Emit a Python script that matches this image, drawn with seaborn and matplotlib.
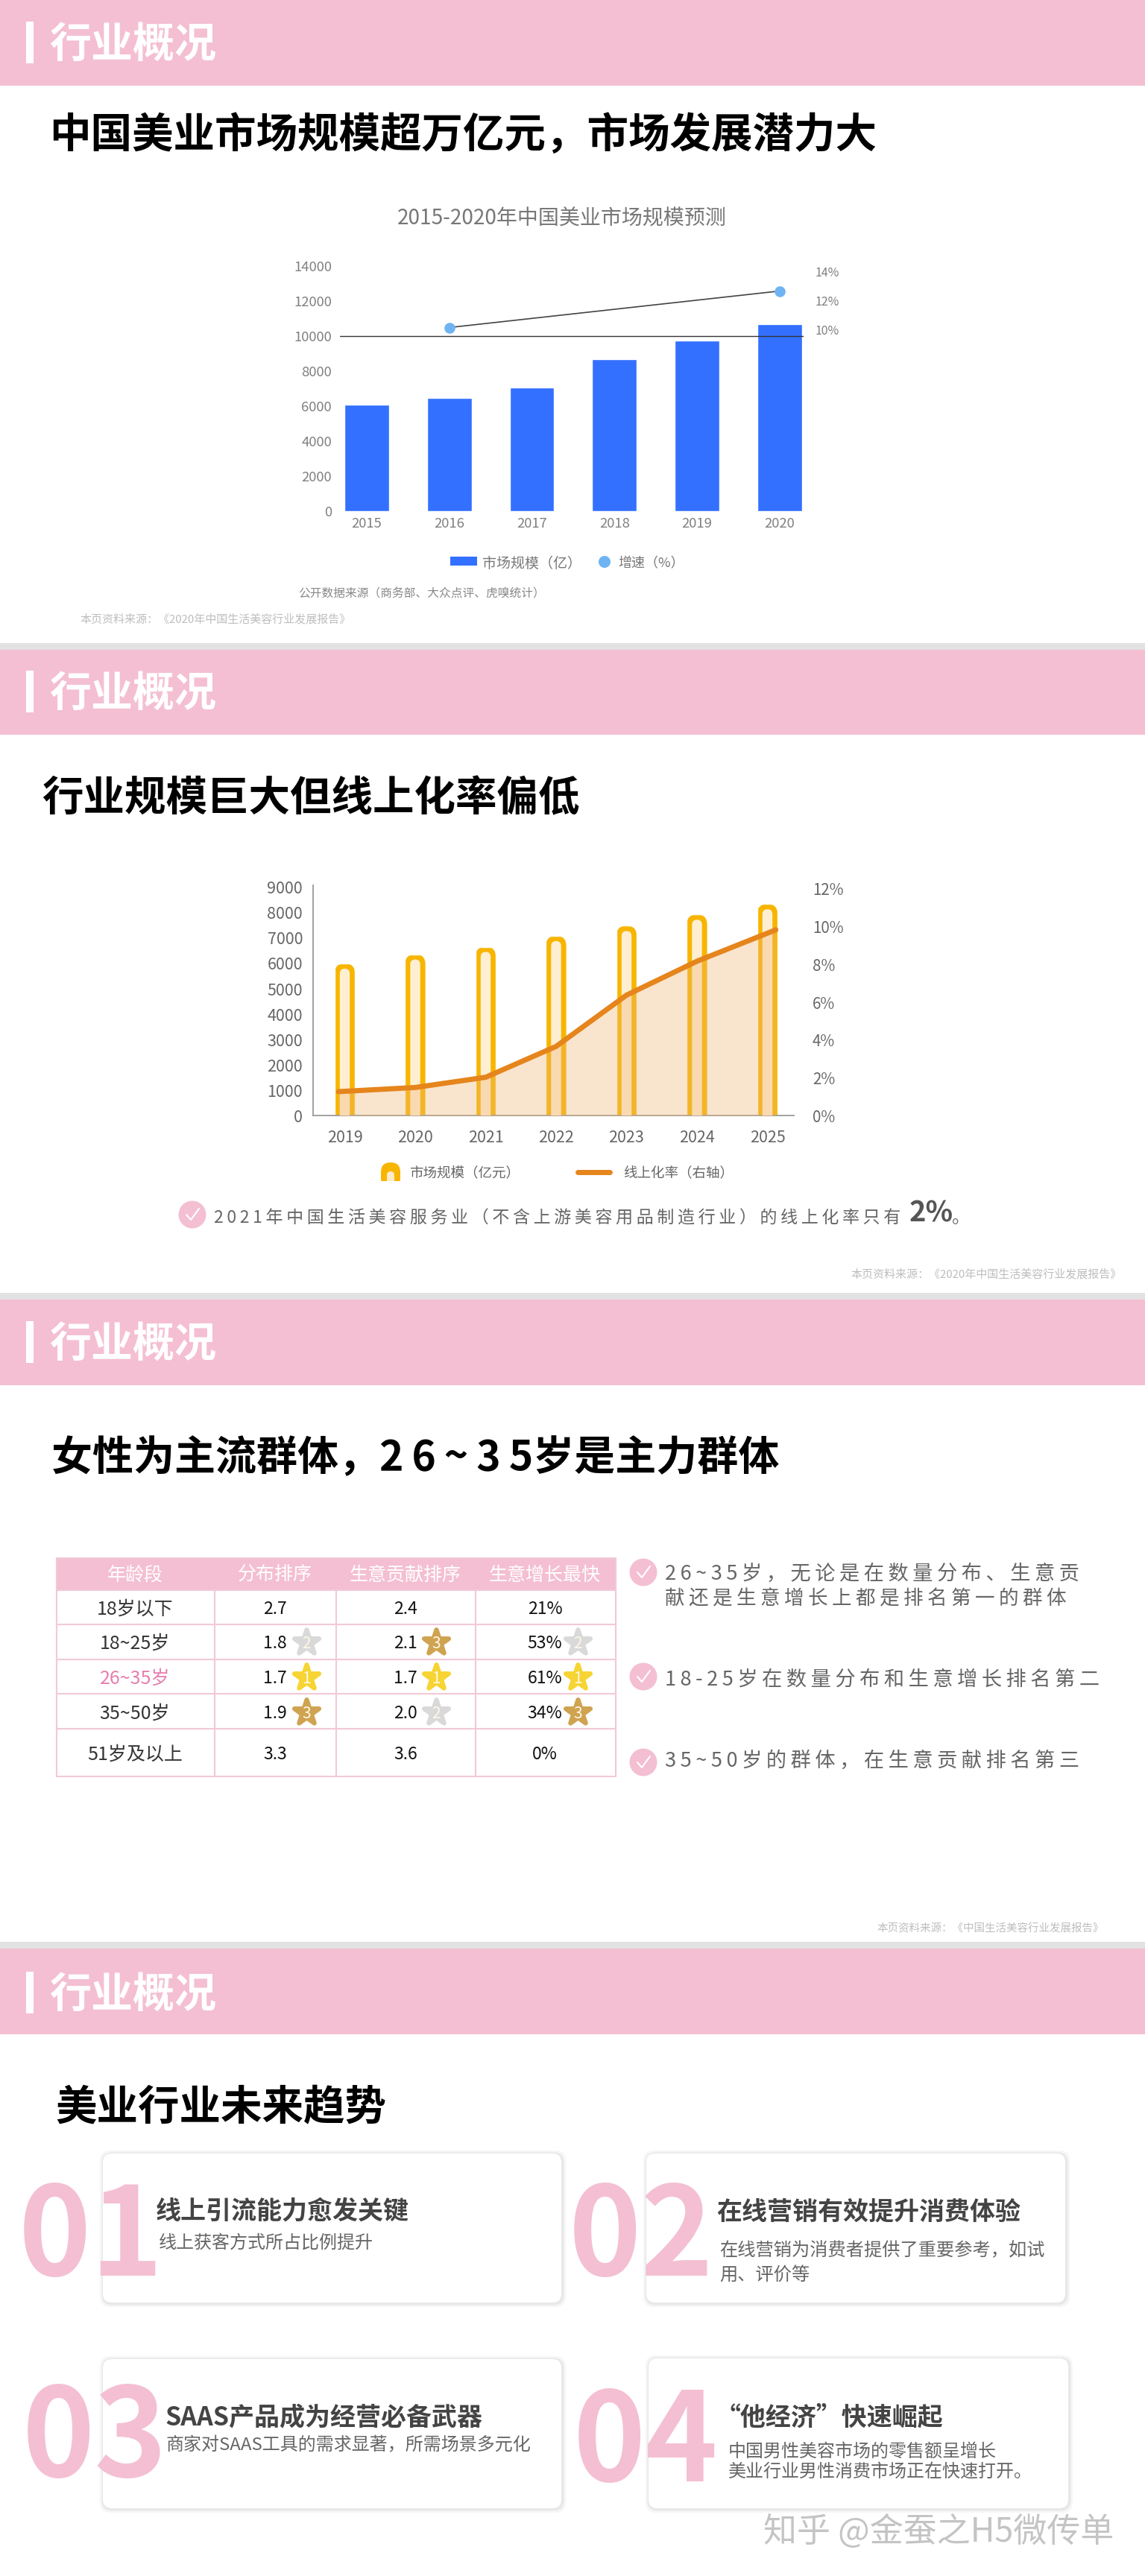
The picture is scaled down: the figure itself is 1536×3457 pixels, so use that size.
import numpy as np
import pandas as pd
import matplotlib
matplotlib.use("Agg")
import matplotlib.pyplot as plt
import seaborn as sns
from matplotlib.patches import Circle, FancyBboxPatch, Rectangle
from matplotlib.transforms import IdentityTransform

# Chart 1
years_a = ["2015", "2016", "2017", "2018", "2019", "2020"]
market_a = [6068, 6450, 7048, 8672, 9724, 10679]
growth_pos = [1, 5]
growth_a = [10.17, 12.68]
ticks_a = [0, 2000, 4000, 6000, 8000, 10000, 12000, 14000]
ticks_a_right = [10, 12, 14]

# Chart 2
years_b = ["2019", "2020", "2021", "2022", "2023", "2024", "2025"]
market_b = [6000, 6362, 6659, 7088, 7483, 7928, 8340]
rate_pos = [-0.09, 1, 2, 3, 4, 5, 6.12]
rate_b = [1.28, 1.5, 2.04, 3.67, 6.38, 8.17, 9.83]
ticks_b = [0, 1000, 2000, 3000, 4000, 5000, 6000, 7000, 8000, 9000]
ticks_b_right = [0, 2, 4, 6, 8, 10, 12]

# Table
table_head = ["年龄段", "分布排序", "生意贡献排序", "生意增长最快"]
age_groups = ["18岁以下", "18~25岁", "26~35岁", "35~50岁", "51岁及以上"]
col_spread = ["2.7", "1.8", "1.7", "1.9", "3.3"]
col_contrib = ["2.4", "2.1", "1.7", "2.0", "3.6"]
col_growth = ["21%", "53%", "61%", "34%", "0%"]
rank_spread = [0, 2, 1, 3, 0]
rank_contrib = [0, 3, 1, 2, 0]
rank_growth = [0, 2, 1, 3, 0]

PINK = "#F4BFD2"
HEADER_TEXT = "行业概况"


def px(n):
    return n * 0.72


sns.set_theme(style="white")
plt.rcParams["font.family"] = ["Noto Sans CJK SC", "DejaVu Sans"]
plt.rcParams["axes.unicode_minus"] = False

W, H = 1536, 3457
fig = plt.figure(figsize=(W / 100, H / 100), dpi=100, facecolor="white")

bg = fig.add_axes([0, 0, 1, 1], zorder=0)
bg.set_xlim(0, W)
bg.set_ylim(H, 0)
bg.axis("off")


def axes_px(left, top, right, bottom):
    return fig.add_axes([left / W, 1 - bottom / H, (right - left) / W, (bottom - top) / H], zorder=1)


def txt(x, y, s, size, color="#333333", weight="normal", ha="left", va="center", zorder=5):
    # matplotlib centres on the line box, which sits a little above the glyphs
    if va == "center":
        y = y + size * 0.07
    return bg.text(x, y, s, fontsize=px(size), color=color, fontweight=weight, ha=ha, va=va, zorder=zorder)


def spaced(s):
    return "\u2009".join(s)


def check_icon(x, y, r=18.5):
    bg.add_patch(Circle((x, y), r, fc=PINK, ec="none", zorder=3))
    bg.plot([x - 8, x - 2, x + 9], [y, y + 7, y - 8], color="white", lw=1.5, zorder=4)


# headers and separators
for top, bottom, mid in [(0, 115, 57), (872, 986, 928), (1743.5, 1858.5, 1801), (2615, 2730, 2674)]:
    bg.add_patch(Rectangle((0, top), W, bottom - top, fc=PINK, ec="none", zorder=1))
    if top > 0:
        bg.add_patch(Rectangle((0, top - 9), W, 9, fc="#E2E2E2", ec="none", zorder=1))
    bg.add_patch(Rectangle((35, mid - 28), 10, 56, fc="white", ec="none", zorder=2))
    txt(66, mid, HEADER_TEXT, 56, color="white", weight="bold")

txt(66, 178, "中国美业市场规模超万亿元，市场发展潜力大", 55.5, color="black", weight="black")
txt(56, 1068, "行业规模巨大但线上化率偏低", 55.5, color="black", weight="black")
txt(69, 1953, "女性为主流群体，" + spaced("26~35") + "岁是主力群体", 55, color="black", weight="black")
txt(74, 2824, "美业行业未来趋势", 55.5, color="black", weight="black")

# chart 1: market size bars with growth on the right axis
txt(754, 291, "2015-2020年中国美业市场规模预测", 28, color="#777777", ha="center")
ax1 = axes_px(456, 357, 1078, 686)
df_a = pd.DataFrame({"year": years_a, "market": market_a})
sns.barplot(data=df_a, x="year", y="market", color="#3370FF", saturation=1, width=0.54, ax=ax1)
ax1.set_xlim(-0.325, 5.29)
ax1.set_ylim(0, 14000)
ax1.set_yticks(ticks_a)
ax1.set_xlabel("")
ax1.set_ylabel("")
ax1.tick_params(axis="both", length=0, labelsize=px(18.5), labelcolor="#808080")
ax1.tick_params(axis="y", pad=8)
ax1.tick_params(axis="x", pad=6)
ax1.axhline(10000, color="#333333", lw=1, zorder=4)
ax1.patch.set_alpha(0)
sns.despine(ax=ax1, left=True, bottom=True)

ax1r = ax1.twinx()
ax1r.set_ylim(-2.46, 14.4)
sns.lineplot(x=growth_pos, y=growth_a, color="#444444", lw=1.2, ax=ax1r)
sns.scatterplot(x=growth_pos, y=growth_a, color="#6FB4F2", s=110, linewidth=0, zorder=5, ax=ax1r)
ax1r.set_yticks(ticks_a_right)
ax1r.set_yticklabels([f"{v}%" for v in ticks_a_right])
ax1r.tick_params(axis="y", length=0, labelsize=px(16), labelcolor="#808080", pad=11)
ax1r.set_ylabel("")
sns.despine(ax=ax1r, left=True, bottom=True, right=True)

bg.add_patch(Rectangle((604, 747), 36, 12, fc="#3370FF", ec="none"))
txt(647, 755, "市场规模（亿）", 19, color="#777777")
bg.add_patch(Circle((811, 754), 8, fc="#6FB4F2", ec="none"))
txt(829, 755, "增速（%）", 18, color="#777777")
txt(400, 796, "公开数据来源（商务部、大众点评、虎嗅统计）", 15.7, color="#888888")
txt(107, 830, "本页资料来源：《2020年中国生活美容行业发展报告》", 15, color="#BDBDBD")

# chart 2: rounded bars and online rate area
ax2 = axes_px(420, 1188, 1065, 1497.5)
df_b = pd.DataFrame({"year": years_b, "market": market_b})
sns.barplot(data=df_b, x="year", y="market", color="#F7B500", saturation=1, width=0.29, ax=ax2)
ax2.set_xlim(-0.45, 6.376)
ax2.set_ylim(0, 9080)
ax2.set_yticks(ticks_b)
ax2.set_xlabel("")
ax2.set_ylabel("")
ax2.tick_params(axis="both", length=0, labelsize=px(21.5), labelcolor="#666666")
ax2.tick_params(axis="y", pad=10)
ax2.tick_params(axis="x", pad=13)
ax2.patch.set_alpha(0)
sns.despine(ax=ax2)
for side in ["left", "bottom"]:
    ax2.spines[side].set_color("#999999")
    ax2.spines[side].set_linewidth(1.3)

for bar in list(ax2.patches):
    x0, y0 = ax2.transData.transform((bar.get_x(), 0))
    x1, y1 = ax2.transData.transform((bar.get_x() + bar.get_width(), bar.get_height()))
    wid = x1 - x0
    clip = FancyBboxPatch((x0, y0 - 40), wid, y1 - y0 + 40, boxstyle=f"round,pad=0,rounding_size={wid / 2}",
                          transform=IdentityTransform())
    bar.set_clip_path(clip)
    border = 7
    inner = FancyBboxPatch((x0 + border, y0 - 40), wid - 2 * border, y1 - y0 + 40 - border,
                           boxstyle=f"round,pad=0,rounding_size={(wid - 2 * border) / 2}",
                           transform=IdentityTransform(), fc="#FFEFD2", ec="none", zorder=3)
    inner.set_clip_box(ax2.bbox)
    ax2.add_patch(inner)

ax2r = ax2.twinx()
ax2r.set_ylim(0, 12 * 309.2 / 304.5)
ax2r.fill_between(rate_pos, rate_b, 0, color="#EEB573", alpha=0.35, lw=0)
sns.lineplot(x=rate_pos, y=rate_b, color="#E5851C", lw=5, solid_capstyle="round", ax=ax2r)
ax2r.set_yticks(ticks_b_right)
ax2r.set_yticklabels([f"{v}%" for v in ticks_b_right])
ax2r.tick_params(axis="y", length=0, labelsize=px(20.5), labelcolor="#666666", pad=18)
ax2r.set_ylabel("")
ax2r.patch.set_alpha(0)
sns.despine(ax=ax2r, left=True, bottom=True, right=True)

bg.add_patch(FancyBboxPatch((511, 1560), 26, 34, boxstyle="round,pad=0,rounding_size=13", fc="#F7B500", ec="none", zorder=2))
bg.add_patch(FancyBboxPatch((519, 1572), 10, 20, boxstyle="round,pad=0,rounding_size=5", fc="#FFEBC8", ec="none", zorder=3))
bg.add_patch(Rectangle((505, 1585), 40, 12, fc="white", ec="none", zorder=4))
txt(549, 1574, "市场规模（亿元）", 18.5, color="#666666")
bg.plot([775, 818], [1573, 1573], color="#E5851C", lw=5, solid_capstyle="round", zorder=3)
txt(836, 1574, "线上化率（右轴）", 18.5, color="#666666")

check_icon(258, 1630)
txt(287, 1633, spaced("2021年中国生活美容服务业（不含上游美容用品制造行业）的线上化率只有"), 23, color="#666666")
txt(1220, 1625, "2%", 38, color="#555555", weight="bold")
txt(1277, 1633, "。", 24, color="#666666")
txt(1141, 1709, "本页资料来源：《2020年中国生活美容行业发展报告》", 15, color="#BDBDBD")

# table
col_edges = [76, 288, 451, 638, 826]
row_edges = [2091, 2134, 2180, 2227, 2273, 2320, 2384]
col_centers = [181, 369, 544, 731]
row_centers = [2158, 2204, 2251, 2298, 2353]
LINE = "#F2C9D8"
bg.add_patch(Rectangle((76, 2091), 750, 43, fc=PINK, ec="none", zorder=1))
for cx, name in zip(col_centers, table_head):
    txt(cx, 2112, name, 25, color="white", ha="center")
for yy in row_edges:
    bg.plot([76, 826], [yy, yy], color=LINE, lw=1.5, zorder=2)
for xx in col_edges:
    bg.plot([xx, xx], [2134 if xx not in (76, 826) else 2091, 2384], color=LINE, lw=1.5, zorder=2)

for i, yy in enumerate(row_centers):
    txt(col_centers[0], yy, age_groups[i], 25, color="#E77FB0" if i == 2 else "#333333", ha="center")
    txt(col_centers[1], yy, col_spread[i], 23, color="#111111", ha="center")
    txt(col_centers[2], yy, col_contrib[i], 23, color="#111111", ha="center")
    txt(col_centers[3], yy, col_growth[i], 23, color="#111111", ha="center")

STAR_COLORS = {1: "#F6D433", 2: "#D9D9D9", 3: "#CFA350"}
star_cols = [(411, rank_spread), (585, rank_contrib), (775, rank_growth)]
for sx, ranks in star_cols:
    for yy, rank in zip(row_centers, ranks):
        if rank == 0:
            continue
        bg.scatter([sx], [yy], marker="*", s=620, c=STAR_COLORS[rank], edgecolors=STAR_COLORS[rank],
                   linewidths=4.5, joinstyle="round", zorder=3)
        txt(sx, yy + 1, str(rank), 21, color="#FFF8E8", ha="center", zorder=4)

check_icon(863, 2110)
check_icon(863, 2250)
check_icon(863, 2365)
txt(892, 2110, spaced("26~35岁，无论是在数量分布、生意贡"), 27.2, color="#666666")
txt(892, 2144, spaced("献还是生意增长上都是排名第一的群体"), 26.6, color="#666666")
txt(892, 2252, spaced("18-25岁在数量分布和生意增长排名第二"), 27.2, color="#666666")
txt(892, 2361, spaced("35~50岁的群体，在生意贡献排名第三"), 27.2, color="#666666")
txt(1176, 2587, "本页资料来源：《中国生活美容行业发展报告》", 14.5, color="#BDBDBD")

# trend cards
card_boxes = [(138, 2890, 615, 200), (867, 2890, 562, 200), (138, 3166, 615, 200), (870, 3165, 563, 201)]
for x, y, w, h in card_boxes:
    for grow, col in [(5, "#F6F6F6"), (2.5, "#E8E8E8")]:
        bg.add_patch(FancyBboxPatch((x - grow + 1, y - grow + 1), w + 2 * grow, h + 2 * grow,
                                    boxstyle="round,pad=0,rounding_size=14", fc=col, ec="none", zorder=1))
    bg.add_patch(FancyBboxPatch((x, y), w, h, boxstyle="round,pad=0,rounding_size=12", fc="white", ec="none", zorder=2))

numbers = ["01", "02", "03", "04"]
number_x = [122, 860, 127, 866]
number_base = [3054, 3054, 3324, 3330]
for s, nx, ny in zip(numbers, number_x, number_base):
    txt(nx, ny, s, 165, color=PINK, weight="bold", ha="center", va="baseline", zorder=3)

HEAD = "#444444"
SUB = "#666666"
txt(209, 2965, "线上引流能力愈发关键", 34, color=HEAD, weight="bold")
txt(213, 3008, "线上获客方式所占比例提升", 24, color=SUB)
txt(961, 2966, "在线营销有效提升消费体验", 34, color=HEAD, weight="bold")
txt(965, 3018, "在线营销为消费者提供了重要参考，如试", 24.2, color=SUB)
txt(965, 3052, "用、评价等", 24.2, color=SUB)
txt(222, 3242, "SAAS产品成为经营必备武器", 34, color=HEAD, weight="bold")
txt(222, 3280, "商家对SAAS工具的需求显著，所需场景多元化", 24, color=SUB)
txt(960, 3242, "“他经济”快速崛起", 34, color=HEAD, weight="bold")
txt(977, 3289, "中国男性美容市场的零售额呈增长", 24, color=SUB)
txt(977, 3315, "美业行业男性消费市场正在快速打开。", 24, color=SUB)

txt(1024, 3395, "知乎 @金蚕之H5微传单", 45, color="#C4C4C4")

fig.savefig("out.png", dpi=100)
